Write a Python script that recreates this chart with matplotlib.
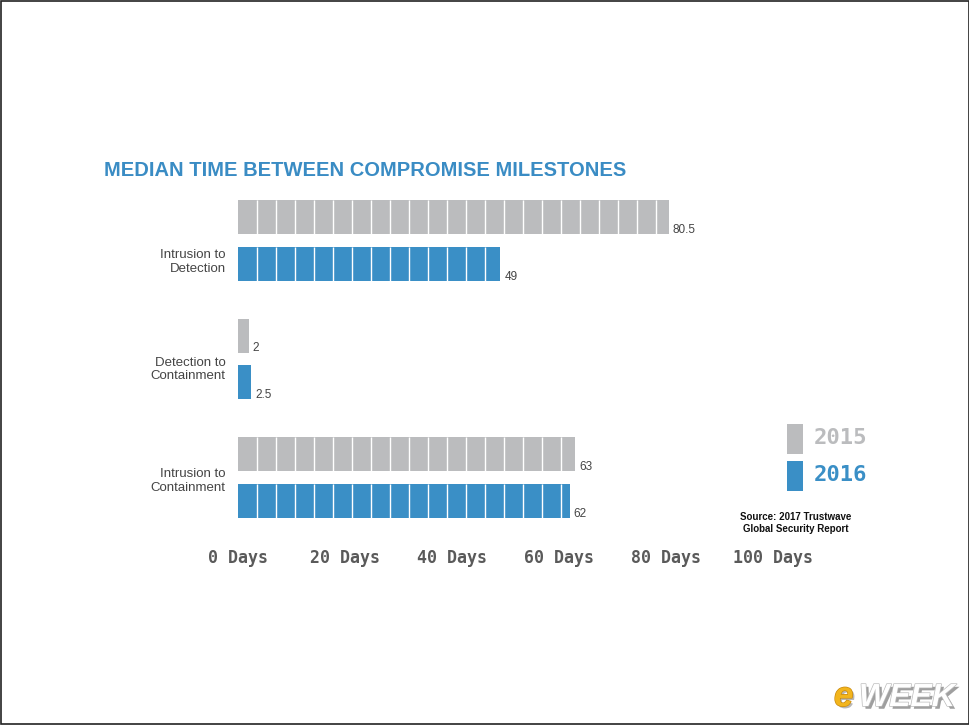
import matplotlib
matplotlib.use("Agg")
import matplotlib.pyplot as plt
import matplotlib.patheffects as pe
from matplotlib.patches import Rectangle
import numpy as np

categories = ["Intrusion to\nDetection", "Detection to\nContainment", "Intrusion to\nContainment"]
years = ["2015", "2016"]
days_2015 = [80.5, 2, 63]
days_2016 = [49, 2.5, 62]
value_labels_2015 = ["80.5", "2", "63"]
value_labels_2016 = ["49", "2.5", "62"]
tick_values = [0, 20, 40, 60, 80, 100]
tick_labels = ["0 Days", "20 Days", "40 Days", "60 Days", "80 Days", "100 Days"]

GREY = "#bbbcbe"
BLUE = "#3a8fc6"
W, H = 970, 725

fig = plt.figure(figsize=(W / 100, H / 100), dpi=100)
fig.patch.set_facecolor("white")
fig.patches.append(Rectangle((0.001, 0.001), 0.998, 0.998, transform=fig.transFigure,
                             fill=False, edgecolor="#222222", lw=1.2))

# axes placed in pixel terms: x 238..773, y 200..518
ax = fig.add_axes([238 / W, 1 - 518 / H, 535 / W, 318 / H])
ax.set_xlim(0, 100)
ax.set_ylim(2.342, -0.342)
for s in ax.spines.values():
    s.set_visible(False)
ax.set_yticks([])
ax.set_xticks(tick_values)
ax.set_xticklabels(tick_labels, family="DejaVu Sans Mono", fontweight="bold",
                   fontsize=12, color="#5a5a5a")
ax.tick_params(axis="x", length=0, pad=22)

y = np.arange(len(categories))
bh = 0.287
off = 0.198
seg = 3.55

for vals, labels, color, dy in [(days_2015, value_labels_2015, GREY, -off),
                                (days_2016, value_labels_2016, BLUE, off)]:
    ax.barh(y + dy, vals, height=bh, color=color, edgecolor="none")
    for yi, v, lab in zip(y, vals, labels):
        cuts = np.arange(seg, v, seg)
        if len(cuts):
            ax.vlines(cuts, yi + dy - bh / 2, yi + dy + bh / 2, color="white", lw=1.0)
        ax.annotate(lab, (v, yi + dy + bh / 2), xytext=(3, 3), textcoords="offset points",
                    ha="left", va="center", fontsize=8.5, color="#444444",
                    family="Liberation Sans")

label_shift = [0.18, 0.09, 0.03]
for yi, cat, sh in zip(y, categories, label_shift):
    ax.text(-2.3, yi + sh, cat, ha="right", va="center", multialignment="right",
            fontsize=9.5, color="#444444", family="Liberation Sans", linespacing=1.15)

fig.text(104 / W, 1 - 170 / H, "MEDIAN TIME BETWEEN COMPROMISE MILESTONES",
         ha="left", va="center", fontsize=14.5, fontweight="bold", color="#3a8cc4",
         family="Liberation Sans")

# legend
for i, (yr, color) in enumerate(zip(years, [GREY, BLUE])):
    top = 424 + i * 37
    fig.patches.append(Rectangle((787 / W, 1 - (top + 30) / H), 16 / W, 30 / H,
                                 transform=fig.transFigure, facecolor=color, edgecolor="none"))
    fig.text(814 / W, 1 - (top + 14) / H, yr, ha="left", va="center", fontsize=16,
             fontweight="bold", family="DejaVu Sans Mono", color=color)

fig.text(796 / W, 1 - 523 / H, "Source: 2017 Trustwave\nGlobal Security Report",
         ha="center", va="center", fontsize=7, fontweight="bold", color="#111111",
         family="Liberation Sans", linespacing=1.3)

# eWEEK logo
fig.text(834 / W, 1 - 706 / H, "e", ha="left", va="baseline", fontsize=25,
         fontweight="bold", style="italic", color="#f2b51d", family="Liberation Sans",
         path_effects=[pe.withSimplePatchShadow(offset=(1.5, -1.5), shadow_rgbFace="#888888", alpha=0.6),
                       pe.Stroke(linewidth=1, foreground="#c98a10"), pe.Normal()])
fig.text(859 / W, 1 - 706 / H, "WEEK", ha="left", va="baseline", fontsize=23,
         fontweight="bold", style="italic", color="white", family="Liberation Sans",
         path_effects=[pe.withSimplePatchShadow(offset=(2, -2), shadow_rgbFace="#777777", alpha=0.7),
                       pe.Stroke(linewidth=1, foreground="#bbbbbb"), pe.Normal()])

fig.savefig("out.png", dpi=100, facecolor="white")
